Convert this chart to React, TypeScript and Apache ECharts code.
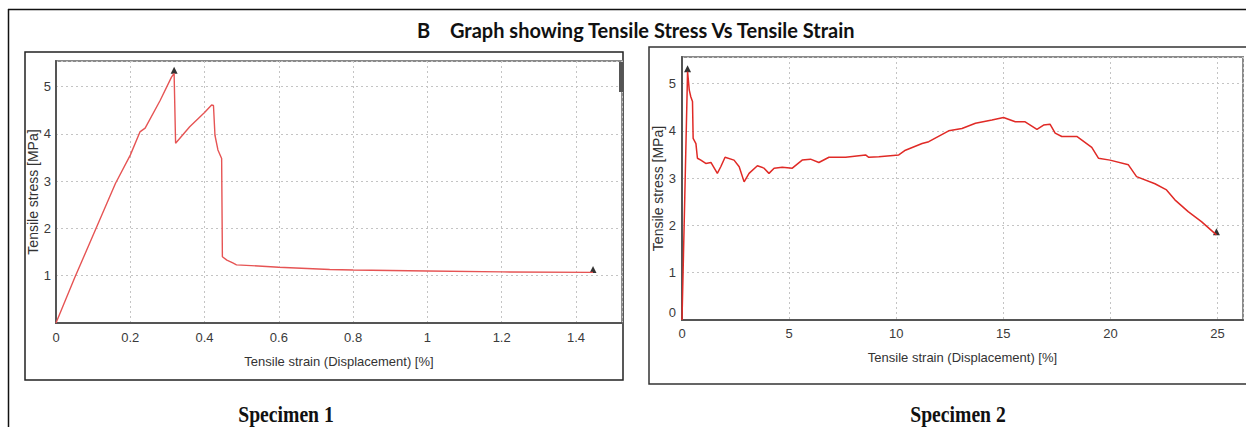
import React, { useEffect, useRef } from "react";
import * as echarts from "echarts";

// Specimen 1
const s1Strain = [0, 0.05, 0.11, 0.16, 0.2, 0.226, 0.24, 0.28, 0.311, 0.318, 0.322, 0.36, 0.4, 0.419, 0.424, 0.428, 0.436, 0.446, 0.448, 0.46, 0.476, 0.486, 0.6, 0.737, 0.8, 1.0, 1.2, 1.446];
const s1Stress = [0, 0.95, 2.04, 2.95, 3.55, 4.04, 4.12, 4.7, 5.2, 5.28, 3.8, 4.15, 4.45, 4.61, 4.6, 3.97, 3.66, 3.48, 1.4, 1.33, 1.27, 1.23, 1.18, 1.13, 1.12, 1.1, 1.08, 1.07];
const s1Markers = [[0.318, 5.28], [1.446, 1.07]];

// Specimen 2
const s2Strain = [0, 0.13, 0.26, 0.34, 0.41, 0.49, 0.52, 0.65, 0.72, 0.88, 1.11, 1.35, 1.65, 1.81, 2.01, 2.43, 2.67, 2.9, 3.13, 3.52, 3.83, 4.06, 4.3, 4.68, 5.15, 5.61, 6.0, 6.39, 6.86, 7.64, 8.57, 8.72, 9.19, 10.12, 10.43, 11.21, 11.52, 12.45, 13.07, 13.7, 14.47, 15.01, 15.56, 16.02, 16.57, 16.88, 17.18, 17.42, 17.73, 18.43, 19.13, 19.44, 19.98, 20.84, 21.22, 22.08, 22.62, 23.01, 23.63, 24.25, 24.95];
const s2Stress = [0, 2.6, 5.25, 4.86, 4.72, 4.62, 3.84, 3.73, 3.42, 3.38, 3.31, 3.33, 3.1, 3.24, 3.44, 3.38, 3.24, 2.92, 3.1, 3.26, 3.21, 3.1, 3.21, 3.23, 3.21, 3.38, 3.4, 3.33, 3.44, 3.44, 3.49, 3.44, 3.45, 3.49, 3.59, 3.73, 3.77, 4.0, 4.05, 4.16, 4.23, 4.28, 4.19, 4.19, 4.03, 4.12, 4.14, 3.95, 3.88, 3.88, 3.65, 3.42, 3.38, 3.28, 3.03, 2.88, 2.75, 2.54, 2.29, 2.08, 1.8];
const s2Markers = [[0.26, 5.25], [24.95, 1.8]];

const titleLetter = "B";
const titleText = "Graph showing Tensile Stress Vs Tensile Strain";
const xName = "Tensile strain (Displacement) [%]";
const yName = "Tensile stress [MPa]";
const panelLabels = ["Specimen 1", "Specimen 2"];

const near = (v: number, step: number) => Math.abs(v / step - Math.round(v / step)) < 1e-6;

export default function App() {
  const ref = useRef<HTMLDivElement>(null);
  useEffect(() => {
    const chart = echarts.init(ref.current!, null, { renderer: "svg" });
    const labelStyle = { color: "#3a3a3a", fontSize: 13, fontFamily: "Liberation Sans, Arial, sans-serif" };
    const xNameStyle = { color: "#333", fontSize: 13, fontFamily: "Liberation Sans, Arial, sans-serif" };
    const yNameStyle = { color: "#333", fontSize: 14, fontFamily: "Liberation Sans, Arial, sans-serif" };
    const splitLine = { show: true, lineStyle: { color: "#c4c4c4", type: [2, 3] as any, width: 1 } };
    const axisLine = { show: true, lineStyle: { color: "#555", width: 2 } };
    const lineSeries = (xs: number[], ys: number[], idx: number, color: string, w: number) => ({
      type: "line",
      xAxisIndex: idx,
      yAxisIndex: idx,
      data: xs.map((x, i) => [x, ys[i]]),
      showSymbol: false,
      symbol: "none",
      lineStyle: { color, width: w },
      silent: true,
    });
    const markerSeries = (pts: number[][], idx: number) => ({
      type: "scatter",
      xAxisIndex: idx,
      yAxisIndex: idx,
      data: pts,
      symbol: "triangle",
      symbolSize: [7, 7],
      symbolOffset: [0, -3],
      itemStyle: { color: "#000" },
      silent: true,
    });
    chart.setOption({
      animation: false,
      grid: [
        { left: 56, top: 61, width: 566, height: 262, show: true, borderColor: "#8a8a8a", borderWidth: 2, backgroundColor: "#fff" },
        { left: 682, top: 57, width: 563, height: 263, show: true, borderColor: "#8a8a8a", borderWidth: 2, backgroundColor: "#fff" },
      ],
      xAxis: [
        {
          type: "value", gridIndex: 0, min: 0, max: 1.524, interval: 0.2,
          name: xName, nameLocation: "middle", nameGap: 32, nameTextStyle: xNameStyle,
          axisLine, axisTick: { show: false }, splitLine,
          axisLabel: { ...labelStyle, margin: 8, formatter: (v: number) => (near(v, 0.2) && v < 1.5 ? String(Math.round(v * 10) / 10) : "") },
        },
        {
          type: "value", gridIndex: 1, min: 0, max: 26.19, interval: 5,
          name: xName, nameLocation: "middle", nameGap: 31, nameTextStyle: xNameStyle,
          axisLine, axisTick: { show: false }, splitLine,
          axisLabel: { ...labelStyle, margin: 7, formatter: (v: number) => (near(v, 5) && v < 26 ? String(Math.round(v)) : "") },
        },
      ],
      yAxis: [
        {
          type: "value", gridIndex: 0, min: 0, max: 5.54, interval: 1,
          name: yName, nameLocation: "middle", nameGap: 14, nameTextStyle: yNameStyle,
          axisLine, axisTick: { show: false }, splitLine,
          axisLabel: { ...labelStyle, margin: 5, formatter: (v: number) => (near(v, 1) && v > 0.5 && v < 5.5 ? String(Math.round(v)) : "") },
        },
        {
          type: "value", gridIndex: 1, min: 0, max: 5.56, interval: 1,
          name: yName, nameLocation: "middle", nameGap: 17, nameTextStyle: yNameStyle,
          axisLine, axisTick: { show: false }, splitLine,
          axisLabel: {
            ...labelStyle, margin: 6,
            formatter: (v: number) => {
              if (!near(v, 1) || v > 5.5) return "";
              if (Math.round(v) === 0) return "{z|0}";
              return String(Math.round(v));
            },
            rich: { z: { ...labelStyle, padding: [0, 0, 16, 0] } },
          },
        },
      ],
      series: [
        lineSeries(s1Strain, s1Stress, 0, "#e65454", 1.4),
        markerSeries(s1Markers, 0),
        lineSeries(s2Strain, s2Stress, 1, "#e02a26", 1.5),
        markerSeries(s2Markers, 1),
      ],
      graphic: [
        { type: "line", z: 100, shape: { x1: 8, y1: 9.5, x2: 1250, y2: 9.5 }, style: { stroke: "#111", lineWidth: 1.5 } },
        { type: "line", z: 100, shape: { x1: 8.5, y1: 9, x2: 8.5, y2: 430 }, style: { stroke: "#111", lineWidth: 1.5 } },
        { type: "rect", z: -10, shape: { x: 25, y: 52, width: 598, height: 328 }, style: { fill: "#fff", stroke: "#222", lineWidth: 1.5 } },
        { type: "rect", z: -10, shape: { x: 649, y: 47, width: 620, height: 337 }, style: { fill: "#fff", stroke: "#333", lineWidth: 1.5 } },
        { type: "rect", z: 100, shape: { x: 619, y: 62, width: 4, height: 30 }, style: { fill: "#555" } },
        {
          type: "text", z: 100, x: 417, y: 30,
          style: { text: titleLetter, font: "bold 20px Lato, 'Open Sans', sans-serif", fill: "#111", verticalAlign: "middle" },
        },
        {
          type: "text", z: 100, x: 450, y: 30,
          style: { text: titleText, font: "bold 20px Lato, 'Open Sans', sans-serif", fill: "#111", verticalAlign: "middle" },
        },
        {
          type: "text", z: 100, x: 286, y: 414, scaleX: 0.82,
          style: { text: panelLabels[0], font: "bold 24px 'Liberation Serif', 'DejaVu Serif', serif", fill: "#111", align: "center", verticalAlign: "middle" },
        },
        {
          type: "text", z: 100, x: 958, y: 414, scaleX: 0.82,
          style: { text: panelLabels[1], font: "bold 24px 'Liberation Serif', 'DejaVu Serif', serif", fill: "#111", align: "center", verticalAlign: "middle" },
        },
      ],
    });
    return () => chart.dispose();
  }, []);
  return <div ref={ref} style={{ position: "absolute", left: 0, top: 0, width: 1246, height: 427, background: "#fff" }} />;
}
